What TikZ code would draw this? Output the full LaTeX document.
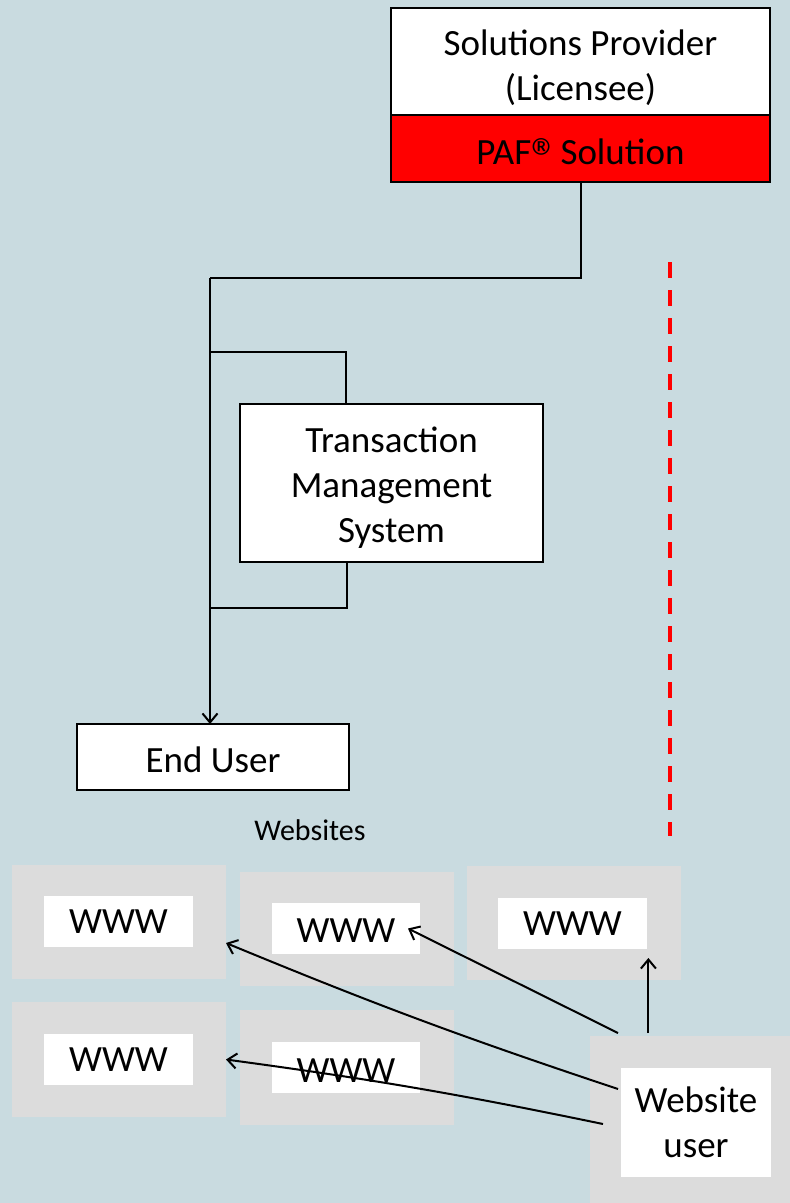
\documentclass[tikz,border=0pt]{standalone}
\usepackage{fontspec}
\setmainfont{Carlito}
\usetikzlibrary{arrows.meta,positioning}
\definecolor{bgc}{HTML}{C9DBE0}
\definecolor{greyc}{HTML}{DCDCDC}
\definecolor{redc}{HTML}{FF0000}
\newcommand{\bigreg}{\raisebox{-12pt}{\fontsize{55}{55}\selectfont\textregistered}}
\tikzset{
  box/.style={draw=black, line width=2.5pt, fill=white, inner sep=0pt, outer sep=0pt},
  lbl/.style={inner sep=0pt, align=center, font=\fontsize{37}{45}\selectfont},
  greybox/.style={fill=greyc, draw=none, inner sep=0pt, outer sep=0pt,
    minimum width=214pt, minimum height=114pt},
  wbox/.style={fill=white, draw=none, inner sep=0pt, outer sep=0pt, align=center,
    font=\fontsize{37}{45}\selectfont},
  conn/.style={draw=black, line width=2pt},
  arr/.style={conn, -{Straight Barb[length=9pt,width=15pt,line width=2pt]}},
}
\begin{document}
\begin{tikzpicture}[x=1pt,y=-1pt]
\useasboundingbox (0,0) rectangle (790,1203);
\fill[bgc] (0,0) rectangle (790,1203);

% top box
\node[box, minimum width=379pt, minimum height=107pt,
  label={[lbl, yshift=-6pt]center:{Solutions Provider\\(Licensee)}}] (sp) at (580.5,61.5) {};
\node[box, fill=redc, minimum width=379pt, minimum height=67pt,
  label={[lbl, yshift=-9pt]center:{PAF\bigreg\kern-7pt\ Solution}}] (paf) at (580.5,148.5) {};

% TMS and End User
\node[box, minimum width=303pt, minimum height=158pt,
  label={[lbl, yshift=-5pt]center:{Transaction\\Management\\System}}] (tms) at (391.5,483) {};
\node[box, minimum width=272pt, minimum height=66pt,
  label={[lbl, yshift=-3pt]center:{End User}}] (eu) at (213,757) {};

% connectors
\coordinate (j1) at (210,278);
\coordinate (b1) at (210,352);
\coordinate (b2) at (210,608);
\draw[conn] (paf.south) |- (j1);
\draw[arr] (j1) -- (j1 |- eu.north);
\draw[conn] (b1) -| ([xshift=-46pt]tms.north);
\draw[conn] ([xshift=-45pt]tms.south) |- (b2);

% red dashed separator
\coordinate (d1) at (670,262);
\coordinate (d2) at (670,836);
\draw[redc, line width=4pt, dash pattern=on 16pt off 12pt] (d1) -- (d2);

% Websites label
\node[font=\fontsize{30}{36}\selectfont, inner sep=0pt] (wl) at (310,830) {Websites};

% website boxes
\node[greybox] (g1) at (119,922) {};
\node[greybox] (g2) at (346.5,929) {};
\node[greybox] (g3) at (573.5,923) {};
\node[greybox, minimum height=115pt] (g4) at (119,1059.5) {};
\node[greybox, minimum height=115pt] (g5) at (346.5,1067.5) {};
\node[greybox, minimum width=200pt, minimum height=167pt] (g6) at (690,1119.5) {};

\node[wbox, minimum width=149pt, minimum height=51pt] (w1) at (118.5,921.5) {WWW};
\node[wbox, minimum width=148pt, minimum height=51pt,
  label={[lbl, yshift=-2pt]center:WWW}] (w2) at (346,928.5) {};
\node[wbox, minimum width=149pt, minimum height=51pt] (w3) at (572.5,923.5) {WWW};
\node[wbox, minimum width=149pt, minimum height=51pt] (w4) at (118.5,1059.5) {WWW};
\node[wbox, minimum width=148pt, minimum height=51pt,
  label={[lbl, yshift=-3pt]center:WWW}] (w5) at (346,1067.5) {};
\node[wbox, minimum width=150pt, minimum height=109pt] (wu) at (696,1122.5) {Website\\user};

% arrows from website user
\draw[arr] ([shift={(-41.6pt,3pt)}]g6.north) -- ([shift={(1.4pt,-9pt)}]w3.south east);
\draw[arr] ([shift={(28pt,3pt)}]g6.north west) -- ([xshift=-12pt]w2.east);
\draw[arr] ([shift={(-3pt,33.5pt)}]wu.west) to[bend left=2] ([yshift=-21pt]g1.east);
\draw[arr] ([shift={(-18pt,-1.5pt)}]wu.west) to[bend right=2] (g4.east);
\end{tikzpicture}
\end{document}
